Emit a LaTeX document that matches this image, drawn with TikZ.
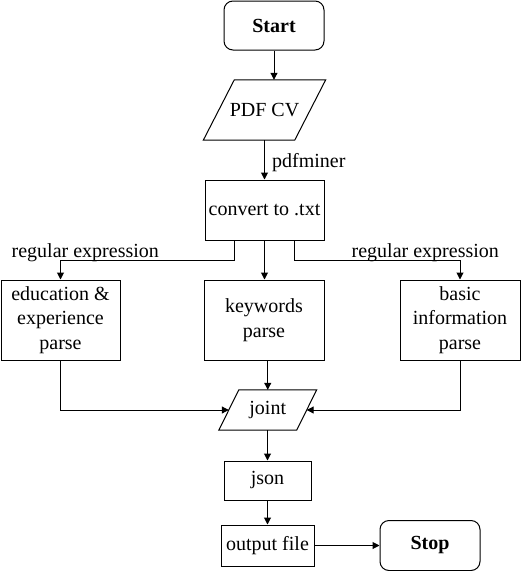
\documentclass[tikz,border=0pt]{standalone}
\usepackage{fontspec}
\setmainfont{Liberation Serif}
\usetikzlibrary{arrows.meta}
\begin{document}
\begin{tikzpicture}[x=1pt,y=-1pt,
  font=\fontsize{20}{24.5}\selectfont,
  box/.style={draw,line width=1pt,inner sep=0pt,align=center},
  term/.style={box,rounded corners=9pt,font=\fontsize{20}{24.5}\selectfont\bfseries},
  para/.style={inner sep=0pt,align=center},
  arr/.style={line width=1pt,-{Triangle[length=7pt,width=7pt]}},
  lbl/.style={inner sep=0pt,anchor=west}]
\useasboundingbox (0,0) rectangle (521,571);
\fill[white] (0,0) rectangle (521,571);

\node[term,minimum width=100pt,minimum height=49pt] (start) at (274,25.5) {Start};
\node[para,minimum width=91pt,minimum height=60pt] (pdf) at (264.5,110) {PDF CV};
\draw[line width=1pt] ([xshift=15.5pt]pdf.north west) -- ([xshift=15.5pt]pdf.north east)
  -- ([xshift=-15.5pt]pdf.south east) -- ([xshift=-15.5pt]pdf.south west) -- cycle;
\node[box,minimum width=119pt,minimum height=60pt] (convert) at (264.5,210) {convert to .txt};
\node[box,minimum width=119pt,minimum height=80pt] (edu) at (60.5,320) {education \&\\experience\\parse};
\node[box,minimum width=120pt,minimum height=80pt] (kw) at (264,320) {keywords\\parse};
\node[box,minimum width=120pt,minimum height=80pt] (basic) at (460,320) {basic\\information\\parse};
\node[para,minimum width=77.5pt,minimum height=40pt] (joint) at (267.75,410) {joint};
\draw[line width=1pt] ([xshift=10pt]joint.north west) -- ([xshift=10pt]joint.north east)
  -- ([xshift=-10pt]joint.south east) -- ([xshift=-10pt]joint.south west) -- cycle;
\node[box,minimum width=87pt,minimum height=39pt] (json) at (267.5,480.5) {json};
\node[box,minimum width=93pt,minimum height=41pt] (out) at (267.5,545.5) {output file};
\node[term,minimum width=100pt,minimum height=50pt] (stop) at (430,545.5) {Stop};

\draw[arr] (start.south) -- (start.south |- pdf.north);
\draw[arr] (pdf.south) -- (convert.north);
\node[lbl] (l1) at (272,163) {pdfminer};
\draw[arr] ([xshift=-30pt]convert.south) -- ++(0,20) -| (edu.north);
\draw[arr] (convert.south) -- (convert.south |- kw.north);
\draw[arr] ([xshift=30pt]convert.south) -- ++(0,20) -| (basic.north);
\node[lbl] (l2) at (11.5,253) {regular expression};
\node[lbl] (l3) at (351.5,253) {regular expression};
\draw[arr] (edu.south) |- (joint.west);
\draw[arr] (basic.south) |- (joint.east);
\draw[arr] (kw.south -| joint.north) -- (joint.north);
\draw[arr] (joint.south -| json.north) -- (json.north);
\draw[arr] (json.south) -- (out.north);
\draw[arr] (out.east) -- (stop.west);
\end{tikzpicture}
\end{document}
